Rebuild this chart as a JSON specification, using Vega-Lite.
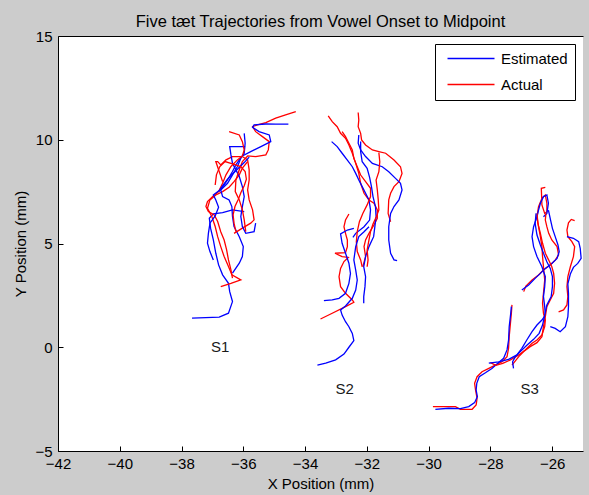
{
"$schema":"https://vega.github.io/schema/vega-lite/v6.json",
"width":525,"height":415,
"autosize":{"type":"none"},
"padding":{"left":58,"top":36,"right":6,"bottom":44},
"background":"#cccccc",
"title":{"text":"Five tæt Trajectories from Vowel Onset to Midpoint","fontSize":16.5,"font":"Liberation Sans","fontWeight":"normal","color":"#000000","offset":-1,"anchor":"middle","frame":"group"},
"config":{
 "view":{"fill":"#ffffff","stroke":null},
 "axis":{"domainColor":"#000000","tickColor":"#000000","labelColor":"#000000","titleColor":"#000000","labelFont":"Liberation Sans","titleFont":"Liberation Sans","labelFontSize":15,"titleFontSize":15,"titleFontWeight":"normal","grid":false,"tickSize":-5,"domainWidth":1,"tickWidth":1}
},
"datasets":{
"labels":[{"label":"S1","x":-36.75,"y":0},{"label":"S2","x":-32.72,"y":-2},{"label":"S3","x":-26.73,"y":-2}],
"traj":[
{"traj":"S1-1","series":"Estimated","step":0,"x":-37.66,"y":1.40},
{"traj":"S1-1","series":"Estimated","step":1,"x":-36.78,"y":1.45},
{"traj":"S1-1","series":"Estimated","step":2,"x":-36.48,"y":1.64},
{"traj":"S1-1","series":"Estimated","step":3,"x":-36.35,"y":2.20},
{"traj":"S1-1","series":"Estimated","step":4,"x":-36.44,"y":2.68},
{"traj":"S1-1","series":"Estimated","step":5,"x":-36.48,"y":3.08},
{"traj":"S1-1","series":"Estimated","step":6,"x":-36.67,"y":3.49},
{"traj":"S1-1","series":"Estimated","step":7,"x":-36.80,"y":3.97},
{"traj":"S1-1","series":"Estimated","step":8,"x":-36.89,"y":4.53},
{"traj":"S1-1","series":"Estimated","step":9,"x":-36.97,"y":5.17},
{"traj":"S1-1","series":"Estimated","step":10,"x":-37.06,"y":5.74},
{"traj":"S1-1","series":"Estimated","step":11,"x":-37.10,"y":6.22},
{"traj":"S1-1","series":"Estimated","step":12,"x":-36.97,"y":6.43},
{"traj":"S1-1","series":"Estimated","step":13,"x":-36.67,"y":6.49},
{"traj":"S1-1","series":"Estimated","step":14,"x":-36.35,"y":6.62},
{"traj":"S1-1","series":"Estimated","step":15,"x":-35.97,"y":6.54},
{"traj":"S1-1","series":"Actual","step":0,"x":-36.73,"y":2.92},
{"traj":"S1-1","series":"Actual","step":1,"x":-36.40,"y":3.08},
{"traj":"S1-1","series":"Actual","step":2,"x":-36.08,"y":3.25},
{"traj":"S1-1","series":"Actual","step":3,"x":-36.37,"y":3.49},
{"traj":"S1-1","series":"Actual","step":4,"x":-36.48,"y":3.89},
{"traj":"S1-1","series":"Actual","step":5,"x":-36.62,"y":4.37},
{"traj":"S1-1","series":"Actual","step":6,"x":-36.73,"y":4.85},
{"traj":"S1-1","series":"Actual","step":7,"x":-36.83,"y":5.33},
{"traj":"S1-1","series":"Actual","step":8,"x":-36.91,"y":5.82},
{"traj":"S1-1","series":"Actual","step":9,"x":-37.02,"y":6.30},
{"traj":"S1-1","series":"Actual","step":10,"x":-37.16,"y":6.70},
{"traj":"S1-1","series":"Actual","step":11,"x":-37.08,"y":7.10},
{"traj":"S1-1","series":"Actual","step":12,"x":-36.89,"y":7.34},
{"traj":"S1-1","series":"Actual","step":13,"x":-36.67,"y":7.50},
{"traj":"S1-1","series":"Actual","step":14,"x":-36.46,"y":7.71},
{"traj":"S1-1","series":"Actual","step":15,"x":-36.30,"y":7.98},
{"traj":"S1-1","series":"Actual","step":16,"x":-36.13,"y":8.31},
{"traj":"S1-1","series":"Actual","step":17,"x":-36.03,"y":8.63},
{"traj":"S1-1","series":"Actual","step":18,"x":-35.86,"y":8.95},
{"traj":"S1-2","series":"Estimated","step":0,"x":-36.35,"y":3.57},
{"traj":"S1-2","series":"Estimated","step":1,"x":-36.13,"y":4.05},
{"traj":"S1-2","series":"Estimated","step":2,"x":-36.03,"y":4.37},
{"traj":"S1-2","series":"Estimated","step":3,"x":-36.00,"y":4.85},
{"traj":"S1-2","series":"Estimated","step":4,"x":-36.13,"y":5.33},
{"traj":"S1-2","series":"Estimated","step":5,"x":-36.30,"y":5.82},
{"traj":"S1-2","series":"Estimated","step":6,"x":-36.35,"y":6.30},
{"traj":"S1-2","series":"Estimated","step":7,"x":-36.37,"y":6.78},
{"traj":"S1-2","series":"Estimated","step":8,"x":-36.46,"y":7.10},
{"traj":"S1-2","series":"Estimated","step":9,"x":-36.67,"y":7.26},
{"traj":"S1-2","series":"Estimated","step":10,"x":-36.73,"y":7.58},
{"traj":"S1-2","series":"Estimated","step":11,"x":-36.51,"y":7.90},
{"traj":"S1-2","series":"Estimated","step":12,"x":-36.35,"y":8.31},
{"traj":"S1-2","series":"Estimated","step":13,"x":-36.19,"y":8.71},
{"traj":"S1-2","series":"Estimated","step":14,"x":-36.08,"y":9.11},
{"traj":"S1-2","series":"Estimated","step":15,"x":-35.97,"y":9.35},
{"traj":"S1-2","series":"Estimated","step":16,"x":-35.94,"y":9.83},
{"traj":"S1-2","series":"Estimated","step":17,"x":-35.97,"y":10.31},
{"traj":"S1-2","series":"Actual","step":0,"x":-36.30,"y":5.49},
{"traj":"S1-2","series":"Actual","step":1,"x":-36.03,"y":5.74},
{"traj":"S1-2","series":"Actual","step":2,"x":-35.76,"y":5.98},
{"traj":"S1-2","series":"Actual","step":3,"x":-35.65,"y":6.14},
{"traj":"S1-2","series":"Actual","step":4,"x":-35.70,"y":6.62},
{"traj":"S1-2","series":"Actual","step":5,"x":-35.81,"y":7.10},
{"traj":"S1-2","series":"Actual","step":6,"x":-35.86,"y":7.58},
{"traj":"S1-2","series":"Actual","step":7,"x":-35.81,"y":8.06},
{"traj":"S1-2","series":"Actual","step":8,"x":-35.81,"y":8.55},
{"traj":"S1-2","series":"Actual","step":9,"x":-35.86,"y":9.03},
{"traj":"S1-2","series":"Actual","step":10,"x":-36.03,"y":9.19},
{"traj":"S1-2","series":"Actual","step":11,"x":-36.35,"y":9.19},
{"traj":"S1-2","series":"Actual","step":12,"x":-36.56,"y":9.03},
{"traj":"S1-2","series":"Actual","step":13,"x":-36.73,"y":8.79},
{"traj":"S1-2","series":"Actual","step":14,"x":-36.83,"y":8.95},
{"traj":"S1-2","series":"Actual","step":15,"x":-36.89,"y":8.95},
{"traj":"S1-2","series":"Actual","step":16,"x":-36.78,"y":8.47},
{"traj":"S1-2","series":"Actual","step":17,"x":-36.67,"y":7.98},
{"traj":"S1-3","series":"Estimated","step":0,"x":-35.60,"y":5.98},
{"traj":"S1-3","series":"Estimated","step":1,"x":-35.65,"y":5.57},
{"traj":"S1-3","series":"Estimated","step":2,"x":-35.92,"y":5.49},
{"traj":"S1-3","series":"Estimated","step":3,"x":-36.03,"y":5.82},
{"traj":"S1-3","series":"Estimated","step":4,"x":-36.08,"y":6.30},
{"traj":"S1-3","series":"Estimated","step":5,"x":-36.03,"y":6.78},
{"traj":"S1-3","series":"Estimated","step":6,"x":-35.97,"y":7.26},
{"traj":"S1-3","series":"Estimated","step":7,"x":-36.03,"y":7.74},
{"traj":"S1-3","series":"Estimated","step":8,"x":-36.13,"y":8.23},
{"traj":"S1-3","series":"Estimated","step":9,"x":-36.24,"y":8.55},
{"traj":"S1-3","series":"Estimated","step":10,"x":-36.35,"y":8.87},
{"traj":"S1-3","series":"Estimated","step":11,"x":-36.40,"y":9.27},
{"traj":"S1-3","series":"Estimated","step":12,"x":-36.44,"y":9.67},
{"traj":"S1-3","series":"Estimated","step":13,"x":-36.19,"y":9.67},
{"traj":"S1-3","series":"Estimated","step":14,"x":-35.94,"y":9.67},
{"traj":"S1-3","series":"Actual","step":0,"x":-35.92,"y":5.57},
{"traj":"S1-3","series":"Actual","step":1,"x":-35.97,"y":6.14},
{"traj":"S1-3","series":"Actual","step":2,"x":-36.03,"y":6.62},
{"traj":"S1-3","series":"Actual","step":3,"x":-36.13,"y":7.10},
{"traj":"S1-3","series":"Actual","step":4,"x":-36.26,"y":7.50},
{"traj":"S1-3","series":"Actual","step":5,"x":-36.24,"y":8.06},
{"traj":"S1-3","series":"Actual","step":6,"x":-36.13,"y":8.55},
{"traj":"S1-3","series":"Actual","step":7,"x":-36.03,"y":8.95},
{"traj":"S1-3","series":"Actual","step":8,"x":-35.86,"y":9.22},
{"traj":"S1-3","series":"Actual","step":9,"x":-35.60,"y":9.19},
{"traj":"S1-3","series":"Actual","step":10,"x":-35.27,"y":9.27},
{"traj":"S1-3","series":"Actual","step":11,"x":-35.19,"y":9.51},
{"traj":"S1-3","series":"Actual","step":12,"x":-35.16,"y":9.91},
{"traj":"S1-3","series":"Actual","step":13,"x":-35.38,"y":10.15},
{"traj":"S1-3","series":"Actual","step":14,"x":-35.60,"y":10.39},
{"traj":"S1-3","series":"Actual","step":15,"x":-35.70,"y":10.63},
{"traj":"S1-3","series":"Actual","step":16,"x":-35.54,"y":10.72},
{"traj":"S1-3","series":"Actual","step":17,"x":-35.27,"y":10.83},
{"traj":"S1-3","series":"Actual","step":18,"x":-34.95,"y":11.04},
{"traj":"S1-3","series":"Actual","step":19,"x":-34.63,"y":11.20},
{"traj":"S1-3","series":"Actual","step":20,"x":-34.30,"y":11.36},
{"traj":"S1-4","series":"Estimated","step":0,"x":-36.78,"y":7.50},
{"traj":"S1-4","series":"Estimated","step":1,"x":-36.62,"y":7.82},
{"traj":"S1-4","series":"Estimated","step":2,"x":-36.48,"y":8.14},
{"traj":"S1-4","series":"Estimated","step":3,"x":-36.35,"y":8.47},
{"traj":"S1-4","series":"Estimated","step":4,"x":-36.24,"y":8.79},
{"traj":"S1-4","series":"Estimated","step":5,"x":-36.13,"y":9.03},
{"traj":"S1-4","series":"Estimated","step":6,"x":-36.03,"y":9.22},
{"traj":"S1-4","series":"Estimated","step":7,"x":-35.76,"y":9.43},
{"traj":"S1-4","series":"Estimated","step":8,"x":-35.43,"y":9.67},
{"traj":"S1-4","series":"Estimated","step":9,"x":-35.11,"y":9.91},
{"traj":"S1-4","series":"Estimated","step":10,"x":-35.16,"y":10.23},
{"traj":"S1-4","series":"Estimated","step":11,"x":-35.49,"y":10.39},
{"traj":"S1-4","series":"Estimated","step":12,"x":-35.70,"y":10.60},
{"traj":"S1-4","series":"Estimated","step":13,"x":-35.65,"y":10.72},
{"traj":"S1-4","series":"Estimated","step":14,"x":-35.27,"y":10.76},
{"traj":"S1-4","series":"Estimated","step":15,"x":-34.95,"y":10.75},
{"traj":"S1-4","series":"Estimated","step":16,"x":-34.54,"y":10.75},
{"traj":"S1-4","series":"Actual","step":0,"x":-36.35,"y":3.33},
{"traj":"S1-4","series":"Actual","step":1,"x":-36.40,"y":3.73},
{"traj":"S1-4","series":"Actual","step":2,"x":-36.48,"y":4.21},
{"traj":"S1-4","series":"Actual","step":3,"x":-36.54,"y":4.69},
{"traj":"S1-4","series":"Actual","step":4,"x":-36.62,"y":5.17},
{"traj":"S1-4","series":"Actual","step":5,"x":-36.73,"y":5.57},
{"traj":"S1-4","series":"Actual","step":6,"x":-36.83,"y":6.06},
{"traj":"S1-4","series":"Actual","step":7,"x":-36.94,"y":6.38},
{"traj":"S1-4","series":"Actual","step":8,"x":-37.13,"y":6.54},
{"traj":"S1-4","series":"Actual","step":9,"x":-37.21,"y":6.78},
{"traj":"S1-4","series":"Actual","step":10,"x":-37.16,"y":7.02},
{"traj":"S1-4","series":"Actual","step":11,"x":-36.99,"y":7.26},
{"traj":"S1-4","series":"Actual","step":12,"x":-36.80,"y":7.50},
{"traj":"S1-4","series":"Actual","step":13,"x":-36.67,"y":7.90},
{"traj":"S1-4","series":"Actual","step":14,"x":-36.56,"y":8.31},
{"traj":"S1-4","series":"Actual","step":15,"x":-36.40,"y":8.71},
{"traj":"S1-4","series":"Actual","step":16,"x":-36.19,"y":9.03},
{"traj":"S1-4","series":"Actual","step":17,"x":-36.03,"y":9.22},
{"traj":"S1-4","series":"Actual","step":18,"x":-35.97,"y":9.51},
{"traj":"S1-4","series":"Actual","step":19,"x":-36.03,"y":9.91},
{"traj":"S1-4","series":"Actual","step":20,"x":-36.13,"y":10.23},
{"traj":"S1-4","series":"Actual","step":21,"x":-36.46,"y":10.39},
{"traj":"S1-5","series":"Estimated","step":0,"x":-36.97,"y":4.21},
{"traj":"S1-5","series":"Estimated","step":1,"x":-37.08,"y":4.61},
{"traj":"S1-5","series":"Estimated","step":2,"x":-37.16,"y":5.01},
{"traj":"S1-5","series":"Estimated","step":3,"x":-37.13,"y":5.49},
{"traj":"S1-5","series":"Estimated","step":4,"x":-37.08,"y":5.98},
{"traj":"S1-5","series":"Estimated","step":5,"x":-36.91,"y":6.33},
{"traj":"S1-5","series":"Estimated","step":6,"x":-36.80,"y":6.75},
{"traj":"S1-5","series":"Estimated","step":7,"x":-36.89,"y":7.10},
{"traj":"S1-5","series":"Estimated","step":8,"x":-36.97,"y":7.34},
{"traj":"S1-5","series":"Estimated","step":9,"x":-36.78,"y":7.55},
{"traj":"S1-5","series":"Estimated","step":10,"x":-36.65,"y":7.82},
{"traj":"S1-5","series":"Estimated","step":11,"x":-36.51,"y":8.10},
{"traj":"S1-5","series":"Estimated","step":12,"x":-36.35,"y":8.35},
{"traj":"S1-5","series":"Estimated","step":13,"x":-36.16,"y":8.63},
{"traj":"S1-5","series":"Estimated","step":14,"x":-35.97,"y":8.90},
{"traj":"S1-5","series":"Estimated","step":15,"x":-35.81,"y":9.16},
{"traj":"S1-5","series":"Actual","step":0,"x":-36.24,"y":5.57},
{"traj":"S1-5","series":"Actual","step":1,"x":-36.30,"y":5.98},
{"traj":"S1-5","series":"Actual","step":2,"x":-36.33,"y":6.38},
{"traj":"S1-5","series":"Actual","step":3,"x":-36.27,"y":6.78},
{"traj":"S1-5","series":"Actual","step":4,"x":-36.16,"y":7.13},
{"traj":"S1-5","series":"Actual","step":5,"x":-36.08,"y":7.45},
{"traj":"S1-5","series":"Actual","step":6,"x":-35.97,"y":7.78},
{"traj":"S1-5","series":"Actual","step":7,"x":-35.90,"y":8.10},
{"traj":"S1-5","series":"Actual","step":8,"x":-35.94,"y":8.47},
{"traj":"S1-5","series":"Actual","step":9,"x":-36.08,"y":8.71},
{"traj":"S1-5","series":"Actual","step":10,"x":-36.35,"y":8.84},
{"traj":"S1-5","series":"Actual","step":11,"x":-36.59,"y":8.95},
{"traj":"S1-5","series":"Actual","step":12,"x":-36.76,"y":8.71},
{"traj":"S1-5","series":"Actual","step":13,"x":-36.87,"y":8.31},
{"traj":"S1-5","series":"Actual","step":14,"x":-36.91,"y":7.82},
{"traj":"S2-1","series":"Actual","step":0,"x":-33.25,"y":11.15},
{"traj":"S2-1","series":"Actual","step":1,"x":-33.12,"y":10.87},
{"traj":"S2-1","series":"Actual","step":2,"x":-32.96,"y":10.63},
{"traj":"S2-1","series":"Actual","step":3,"x":-32.85,"y":10.31},
{"traj":"S2-1","series":"Actual","step":4,"x":-32.69,"y":10.07},
{"traj":"S2-1","series":"Actual","step":5,"x":-32.58,"y":9.75},
{"traj":"S2-1","series":"Actual","step":6,"x":-32.47,"y":9.35},
{"traj":"S2-1","series":"Actual","step":7,"x":-32.36,"y":8.86},
{"traj":"S2-1","series":"Actual","step":8,"x":-32.26,"y":8.38},
{"traj":"S2-1","series":"Actual","step":9,"x":-32.20,"y":7.90},
{"traj":"S2-1","series":"Actual","step":10,"x":-32.09,"y":7.42},
{"traj":"S2-1","series":"Actual","step":11,"x":-31.93,"y":7.10},
{"traj":"S2-1","series":"Actual","step":12,"x":-31.77,"y":6.94},
{"traj":"S2-1","series":"Actual","step":13,"x":-31.66,"y":6.62},
{"traj":"S2-1","series":"Actual","step":14,"x":-31.66,"y":6.21},
{"traj":"S2-1","series":"Actual","step":15,"x":-31.77,"y":5.89},
{"traj":"S2-1","series":"Actual","step":16,"x":-31.93,"y":5.49},
{"traj":"S2-1","series":"Actual","step":17,"x":-32.04,"y":5.17},
{"traj":"S2-1","series":"Actual","step":18,"x":-32.09,"y":4.85},
{"traj":"S2-1","series":"Actual","step":19,"x":-32.04,"y":4.37},
{"traj":"S2-1","series":"Actual","step":20,"x":-32.13,"y":3.88},
{"traj":"S2-1","series":"Estimated","step":0,"x":-33.14,"y":9.91},
{"traj":"S2-1","series":"Estimated","step":1,"x":-32.96,"y":9.67},
{"traj":"S2-1","series":"Estimated","step":2,"x":-32.80,"y":9.35},
{"traj":"S2-1","series":"Estimated","step":3,"x":-32.63,"y":9.02},
{"traj":"S2-1","series":"Estimated","step":4,"x":-32.47,"y":8.70},
{"traj":"S2-1","series":"Estimated","step":5,"x":-32.36,"y":8.38},
{"traj":"S2-1","series":"Estimated","step":6,"x":-32.26,"y":8.06},
{"traj":"S2-1","series":"Estimated","step":7,"x":-32.15,"y":7.74},
{"traj":"S2-1","series":"Estimated","step":8,"x":-32.04,"y":7.42},
{"traj":"S2-1","series":"Estimated","step":9,"x":-31.93,"y":7.10},
{"traj":"S2-1","series":"Estimated","step":10,"x":-31.88,"y":6.62},
{"traj":"S2-1","series":"Estimated","step":11,"x":-31.91,"y":6.13},
{"traj":"S2-1","series":"Estimated","step":12,"x":-32.09,"y":5.81},
{"traj":"S2-1","series":"Estimated","step":13,"x":-32.36,"y":5.49},
{"traj":"S2-1","series":"Estimated","step":14,"x":-32.45,"y":5.30},
{"traj":"S2-2","series":"Actual","step":0,"x":-32.28,"y":11.31},
{"traj":"S2-2","series":"Actual","step":1,"x":-32.26,"y":10.95},
{"traj":"S2-2","series":"Actual","step":2,"x":-32.28,"y":10.63},
{"traj":"S2-2","series":"Actual","step":3,"x":-32.20,"y":10.31},
{"traj":"S2-2","series":"Actual","step":4,"x":-32.17,"y":9.99},
{"traj":"S2-2","series":"Actual","step":5,"x":-32.04,"y":9.75},
{"traj":"S2-2","series":"Actual","step":6,"x":-31.82,"y":9.51},
{"traj":"S2-2","series":"Actual","step":7,"x":-31.61,"y":9.43},
{"traj":"S2-2","series":"Actual","step":8,"x":-31.39,"y":9.35},
{"traj":"S2-2","series":"Actual","step":9,"x":-31.12,"y":9.02},
{"traj":"S2-2","series":"Actual","step":10,"x":-30.91,"y":8.70},
{"traj":"S2-2","series":"Actual","step":11,"x":-30.86,"y":8.38},
{"traj":"S2-2","series":"Actual","step":12,"x":-30.96,"y":7.98},
{"traj":"S2-2","series":"Actual","step":13,"x":-31.12,"y":7.74},
{"traj":"S2-2","series":"Actual","step":14,"x":-31.23,"y":7.42},
{"traj":"S2-2","series":"Actual","step":15,"x":-31.29,"y":7.10},
{"traj":"S2-2","series":"Actual","step":16,"x":-31.31,"y":6.45},
{"traj":"S2-2","series":"Actual","step":17,"x":-31.23,"y":6.05},
{"traj":"S2-2","series":"Estimated","step":0,"x":-32.26,"y":10.23},
{"traj":"S2-2","series":"Estimated","step":1,"x":-32.28,"y":9.83},
{"traj":"S2-2","series":"Estimated","step":2,"x":-32.20,"y":9.51},
{"traj":"S2-2","series":"Estimated","step":3,"x":-32.04,"y":9.19},
{"traj":"S2-2","series":"Estimated","step":4,"x":-31.82,"y":8.86},
{"traj":"S2-2","series":"Estimated","step":5,"x":-31.50,"y":8.70},
{"traj":"S2-2","series":"Estimated","step":6,"x":-31.29,"y":8.46},
{"traj":"S2-2","series":"Estimated","step":7,"x":-31.07,"y":8.14},
{"traj":"S2-2","series":"Estimated","step":8,"x":-30.91,"y":7.90},
{"traj":"S2-2","series":"Estimated","step":9,"x":-30.86,"y":7.58},
{"traj":"S2-2","series":"Estimated","step":10,"x":-30.96,"y":7.10},
{"traj":"S2-2","series":"Estimated","step":11,"x":-31.12,"y":6.78},
{"traj":"S2-2","series":"Estimated","step":12,"x":-31.23,"y":6.45},
{"traj":"S2-2","series":"Estimated","step":13,"x":-31.29,"y":5.81},
{"traj":"S2-2","series":"Estimated","step":14,"x":-31.29,"y":5.17},
{"traj":"S2-2","series":"Estimated","step":15,"x":-31.23,"y":4.53},
{"traj":"S2-2","series":"Estimated","step":16,"x":-31.12,"y":4.21},
{"traj":"S2-2","series":"Estimated","step":17,"x":-31.02,"y":4.17},
{"traj":"S2-3","series":"Actual","step":0,"x":-32.80,"y":10.39},
{"traj":"S2-3","series":"Actual","step":1,"x":-32.69,"y":10.15},
{"traj":"S2-3","series":"Actual","step":2,"x":-32.58,"y":9.83},
{"traj":"S2-3","series":"Actual","step":3,"x":-32.47,"y":9.51},
{"traj":"S2-3","series":"Actual","step":4,"x":-32.42,"y":9.10},
{"traj":"S2-3","series":"Actual","step":5,"x":-32.31,"y":8.70},
{"traj":"S2-3","series":"Actual","step":6,"x":-32.20,"y":8.30},
{"traj":"S2-3","series":"Actual","step":7,"x":-32.04,"y":7.98},
{"traj":"S2-3","series":"Actual","step":8,"x":-31.88,"y":7.66},
{"traj":"S2-3","series":"Actual","step":9,"x":-31.88,"y":7.26},
{"traj":"S2-3","series":"Actual","step":10,"x":-31.99,"y":6.86},
{"traj":"S2-3","series":"Actual","step":11,"x":-32.13,"y":6.45},
{"traj":"S2-3","series":"Actual","step":12,"x":-32.24,"y":6.05},
{"traj":"S2-3","series":"Actual","step":13,"x":-32.31,"y":5.57},
{"traj":"S2-3","series":"Actual","step":14,"x":-32.34,"y":5.09},
{"traj":"S2-3","series":"Actual","step":15,"x":-32.31,"y":4.61},
{"traj":"S2-3","series":"Actual","step":16,"x":-32.20,"y":4.21},
{"traj":"S2-3","series":"Actual","step":17,"x":-32.15,"y":3.88},
{"traj":"S2-3","series":"Estimated","step":0,"x":-32.20,"y":9.91},
{"traj":"S2-3","series":"Estimated","step":1,"x":-32.20,"y":9.43},
{"traj":"S2-3","series":"Estimated","step":2,"x":-32.15,"y":8.94},
{"traj":"S2-3","series":"Estimated","step":3,"x":-31.99,"y":8.62},
{"traj":"S2-3","series":"Estimated","step":4,"x":-31.91,"y":8.19},
{"traj":"S2-3","series":"Estimated","step":5,"x":-31.85,"y":7.74},
{"traj":"S2-3","series":"Estimated","step":6,"x":-31.80,"y":7.26},
{"traj":"S2-3","series":"Estimated","step":7,"x":-31.72,"y":6.78},
{"traj":"S2-3","series":"Estimated","step":8,"x":-31.70,"y":6.29},
{"traj":"S2-3","series":"Estimated","step":9,"x":-31.74,"y":5.81},
{"traj":"S2-3","series":"Estimated","step":10,"x":-31.78,"y":5.33},
{"traj":"S2-3","series":"Estimated","step":11,"x":-31.93,"y":4.85},
{"traj":"S2-3","series":"Estimated","step":12,"x":-32.04,"y":4.37},
{"traj":"S2-3","series":"Estimated","step":13,"x":-32.10,"y":3.88},
{"traj":"S2-3","series":"Estimated","step":14,"x":-32.04,"y":3.40},
{"traj":"S2-3","series":"Estimated","step":15,"x":-32.06,"y":2.92},
{"traj":"S2-3","series":"Estimated","step":16,"x":-32.10,"y":2.44},
{"traj":"S2-3","series":"Estimated","step":17,"x":-32.10,"y":2.12},
{"traj":"S2-4","series":"Actual","step":0,"x":-32.58,"y":6.42},
{"traj":"S2-4","series":"Actual","step":1,"x":-32.69,"y":6.13},
{"traj":"S2-4","series":"Actual","step":2,"x":-32.74,"y":5.81},
{"traj":"S2-4","series":"Actual","step":3,"x":-32.69,"y":5.49},
{"traj":"S2-4","series":"Actual","step":4,"x":-32.63,"y":5.17},
{"traj":"S2-4","series":"Actual","step":5,"x":-32.63,"y":4.85},
{"traj":"S2-4","series":"Actual","step":6,"x":-32.69,"y":4.56},
{"traj":"S2-4","series":"Actual","step":7,"x":-33.03,"y":4.53},
{"traj":"S2-4","series":"Actual","step":8,"x":-32.80,"y":4.37},
{"traj":"S2-4","series":"Actual","step":9,"x":-32.60,"y":4.33},
{"traj":"S2-4","series":"Actual","step":10,"x":-32.74,"y":4.13},
{"traj":"S2-4","series":"Actual","step":11,"x":-32.85,"y":3.80},
{"traj":"S2-4","series":"Actual","step":12,"x":-32.90,"y":3.40},
{"traj":"S2-4","series":"Actual","step":13,"x":-32.85,"y":2.92},
{"traj":"S2-4","series":"Actual","step":14,"x":-32.69,"y":2.60},
{"traj":"S2-4","series":"Actual","step":15,"x":-32.47,"y":2.28},
{"traj":"S2-4","series":"Actual","step":16,"x":-32.42,"y":2.17},
{"traj":"S2-4","series":"Actual","step":17,"x":-32.69,"y":1.96},
{"traj":"S2-4","series":"Actual","step":18,"x":-33.12,"y":1.64},
{"traj":"S2-4","series":"Actual","step":19,"x":-33.50,"y":1.36},
{"traj":"S2-4","series":"Estimated","step":0,"x":-32.42,"y":5.73},
{"traj":"S2-4","series":"Estimated","step":1,"x":-32.63,"y":5.65},
{"traj":"S2-4","series":"Estimated","step":2,"x":-32.85,"y":5.46},
{"traj":"S2-4","series":"Estimated","step":3,"x":-32.80,"y":5.01},
{"traj":"S2-4","series":"Estimated","step":4,"x":-32.69,"y":4.53},
{"traj":"S2-4","series":"Estimated","step":5,"x":-32.58,"y":4.05},
{"traj":"S2-4","series":"Estimated","step":6,"x":-32.53,"y":3.56},
{"traj":"S2-4","series":"Estimated","step":7,"x":-32.58,"y":3.08},
{"traj":"S2-4","series":"Estimated","step":8,"x":-32.69,"y":2.60},
{"traj":"S2-4","series":"Estimated","step":9,"x":-32.90,"y":2.36},
{"traj":"S2-4","series":"Estimated","step":10,"x":-33.12,"y":2.28},
{"traj":"S2-4","series":"Estimated","step":11,"x":-33.39,"y":2.25},
{"traj":"S2-5","series":"Actual","step":0,"x":-31.61,"y":9.38},
{"traj":"S2-5","series":"Actual","step":1,"x":-31.58,"y":8.94},
{"traj":"S2-5","series":"Actual","step":2,"x":-31.61,"y":8.46},
{"traj":"S2-5","series":"Actual","step":3,"x":-31.70,"y":8.06},
{"traj":"S2-5","series":"Actual","step":4,"x":-31.66,"y":7.58},
{"traj":"S2-5","series":"Actual","step":5,"x":-31.63,"y":7.10},
{"traj":"S2-5","series":"Actual","step":6,"x":-31.61,"y":6.62},
{"traj":"S2-5","series":"Actual","step":7,"x":-31.70,"y":6.26},
{"traj":"S2-5","series":"Actual","step":8,"x":-31.80,"y":5.94},
{"traj":"S2-5","series":"Actual","step":9,"x":-31.88,"y":5.57},
{"traj":"S2-5","series":"Actual","step":10,"x":-31.93,"y":5.17},
{"traj":"S2-5","series":"Actual","step":11,"x":-31.99,"y":4.69},
{"traj":"S2-5","series":"Actual","step":12,"x":-31.96,"y":4.21},
{"traj":"S2-5","series":"Actual","step":13,"x":-31.99,"y":3.88},
{"traj":"S2-5","series":"Estimated","step":0,"x":-31.93,"y":5.81},
{"traj":"S2-5","series":"Estimated","step":1,"x":-32.09,"y":5.57},
{"traj":"S2-5","series":"Estimated","step":2,"x":-32.26,"y":5.33},
{"traj":"S2-5","series":"Estimated","step":3,"x":-32.36,"y":4.85},
{"traj":"S2-5","series":"Estimated","step":4,"x":-32.42,"y":4.21},
{"traj":"S2-5","series":"Estimated","step":5,"x":-32.36,"y":3.72},
{"traj":"S2-5","series":"Estimated","step":6,"x":-32.31,"y":3.24},
{"traj":"S2-5","series":"Estimated","step":7,"x":-32.36,"y":2.76},
{"traj":"S2-5","series":"Estimated","step":8,"x":-32.47,"y":2.36},
{"traj":"S2-5","series":"Estimated","step":9,"x":-32.69,"y":1.99},
{"traj":"S2-5","series":"Estimated","step":10,"x":-32.85,"y":1.80},
{"traj":"S2-5","series":"Estimated","step":11,"x":-32.80,"y":1.55},
{"traj":"S2-5","series":"Estimated","step":12,"x":-32.69,"y":1.23},
{"traj":"S2-5","series":"Estimated","step":13,"x":-32.58,"y":0.99},
{"traj":"S2-5","series":"Estimated","step":14,"x":-32.47,"y":0.67},
{"traj":"S2-5","series":"Estimated","step":15,"x":-32.42,"y":0.32},
{"traj":"S2-5","series":"Estimated","step":16,"x":-32.58,"y":0.00},
{"traj":"S2-5","series":"Estimated","step":17,"x":-32.74,"y":-0.33},
{"traj":"S2-5","series":"Estimated","step":18,"x":-33.01,"y":-0.61},
{"traj":"S2-5","series":"Estimated","step":19,"x":-33.33,"y":-0.77},
{"traj":"S2-5","series":"Estimated","step":20,"x":-33.60,"y":-0.86},
{"traj":"S3-1","series":"Actual","step":0,"x":-29.86,"y":-2.86},
{"traj":"S3-1","series":"Actual","step":1,"x":-29.13,"y":-2.86},
{"traj":"S3-1","series":"Actual","step":2,"x":-28.97,"y":-2.99},
{"traj":"S3-1","series":"Actual","step":3,"x":-28.59,"y":-2.99},
{"traj":"S3-1","series":"Actual","step":4,"x":-28.46,"y":-2.78},
{"traj":"S3-1","series":"Actual","step":5,"x":-28.43,"y":-2.46},
{"traj":"S3-1","series":"Actual","step":6,"x":-28.48,"y":-2.06},
{"traj":"S3-1","series":"Actual","step":7,"x":-28.51,"y":-1.74},
{"traj":"S3-1","series":"Actual","step":8,"x":-28.43,"y":-1.42},
{"traj":"S3-1","series":"Actual","step":9,"x":-28.27,"y":-1.18},
{"traj":"S3-1","series":"Actual","step":10,"x":-28.05,"y":-1.02},
{"traj":"S3-1","series":"Actual","step":11,"x":-27.84,"y":-0.86},
{"traj":"S3-1","series":"Actual","step":12,"x":-27.62,"y":-0.70},
{"traj":"S3-1","series":"Actual","step":13,"x":-27.46,"y":-0.45},
{"traj":"S3-1","series":"Actual","step":14,"x":-27.41,"y":-0.05},
{"traj":"S3-1","series":"Actual","step":15,"x":-27.39,"y":0.51},
{"traj":"S3-1","series":"Actual","step":16,"x":-27.35,"y":1.15},
{"traj":"S3-1","series":"Actual","step":17,"x":-27.32,"y":1.63},
{"traj":"S3-1","series":"Actual","step":18,"x":-27.30,"y":2.04},
{"traj":"S3-1","series":"Estimated","step":0,"x":-29.78,"y":-2.99},
{"traj":"S3-1","series":"Estimated","step":1,"x":-29.35,"y":-2.94},
{"traj":"S3-1","series":"Estimated","step":2,"x":-28.97,"y":-2.96},
{"traj":"S3-1","series":"Estimated","step":3,"x":-28.70,"y":-2.86},
{"traj":"S3-1","series":"Estimated","step":4,"x":-28.51,"y":-2.67},
{"traj":"S3-1","series":"Estimated","step":5,"x":-28.42,"y":-2.38},
{"traj":"S3-1","series":"Estimated","step":6,"x":-28.46,"y":-2.06},
{"traj":"S3-1","series":"Estimated","step":7,"x":-28.44,"y":-1.74},
{"traj":"S3-1","series":"Estimated","step":8,"x":-28.36,"y":-1.42},
{"traj":"S3-1","series":"Estimated","step":9,"x":-28.16,"y":-1.23},
{"traj":"S3-1","series":"Estimated","step":10,"x":-27.95,"y":-1.02},
{"traj":"S3-1","series":"Estimated","step":11,"x":-27.73,"y":-0.74},
{"traj":"S3-1","series":"Estimated","step":12,"x":-27.57,"y":-0.53},
{"traj":"S3-1","series":"Estimated","step":13,"x":-27.46,"y":-0.13},
{"traj":"S3-1","series":"Estimated","step":14,"x":-27.41,"y":0.35},
{"traj":"S3-1","series":"Estimated","step":15,"x":-27.39,"y":0.99},
{"traj":"S3-1","series":"Estimated","step":16,"x":-27.34,"y":1.63},
{"traj":"S3-1","series":"Estimated","step":17,"x":-27.32,"y":1.96},
{"traj":"S3-2","series":"Actual","step":0,"x":-28.00,"y":-0.74},
{"traj":"S3-2","series":"Actual","step":1,"x":-27.82,"y":-0.87},
{"traj":"S3-2","series":"Actual","step":2,"x":-27.60,"y":-0.78},
{"traj":"S3-2","series":"Actual","step":3,"x":-27.35,"y":-0.61},
{"traj":"S3-2","series":"Actual","step":4,"x":-27.08,"y":-0.37},
{"traj":"S3-2","series":"Actual","step":5,"x":-26.87,"y":-0.13},
{"traj":"S3-2","series":"Actual","step":6,"x":-26.65,"y":0.19},
{"traj":"S3-2","series":"Actual","step":7,"x":-26.49,"y":0.35},
{"traj":"S3-2","series":"Actual","step":8,"x":-26.33,"y":0.59},
{"traj":"S3-2","series":"Actual","step":9,"x":-26.24,"y":0.99},
{"traj":"S3-2","series":"Actual","step":10,"x":-26.22,"y":1.31},
{"traj":"S3-2","series":"Actual","step":11,"x":-26.28,"y":1.63},
{"traj":"S3-2","series":"Actual","step":12,"x":-26.31,"y":2.12},
{"traj":"S3-2","series":"Actual","step":13,"x":-26.28,"y":2.60},
{"traj":"S3-2","series":"Actual","step":14,"x":-26.24,"y":3.24},
{"traj":"S3-2","series":"Actual","step":15,"x":-26.28,"y":3.88},
{"traj":"S3-2","series":"Actual","step":16,"x":-26.31,"y":4.37},
{"traj":"S3-2","series":"Actual","step":17,"x":-26.33,"y":4.85},
{"traj":"S3-2","series":"Actual","step":18,"x":-26.38,"y":5.33},
{"traj":"S3-2","series":"Actual","step":19,"x":-26.44,"y":5.81},
{"traj":"S3-2","series":"Actual","step":20,"x":-26.49,"y":6.29},
{"traj":"S3-2","series":"Actual","step":21,"x":-26.44,"y":6.78},
{"traj":"S3-2","series":"Actual","step":22,"x":-26.33,"y":7.18},
{"traj":"S3-2","series":"Actual","step":23,"x":-26.22,"y":7.34},
{"traj":"S3-2","series":"Actual","step":24,"x":-26.17,"y":6.94},
{"traj":"S3-2","series":"Actual","step":25,"x":-26.17,"y":6.53},
{"traj":"S3-2","series":"Actual","step":26,"x":-26.24,"y":6.45},
{"traj":"S3-2","series":"Actual","step":27,"x":-26.33,"y":6.86},
{"traj":"S3-2","series":"Actual","step":28,"x":-26.35,"y":7.66},
{"traj":"S3-2","series":"Actual","step":29,"x":-26.22,"y":7.71},
{"traj":"S3-2","series":"Estimated","step":0,"x":-28.05,"y":-0.77},
{"traj":"S3-2","series":"Estimated","step":1,"x":-27.73,"y":-0.70},
{"traj":"S3-2","series":"Estimated","step":2,"x":-27.41,"y":-0.58},
{"traj":"S3-2","series":"Estimated","step":3,"x":-27.14,"y":-0.37},
{"traj":"S3-2","series":"Estimated","step":4,"x":-26.98,"y":-0.05},
{"traj":"S3-2","series":"Estimated","step":5,"x":-26.82,"y":0.35},
{"traj":"S3-2","series":"Estimated","step":6,"x":-26.65,"y":0.75},
{"traj":"S3-2","series":"Estimated","step":7,"x":-26.49,"y":1.07},
{"traj":"S3-2","series":"Estimated","step":8,"x":-26.33,"y":1.31},
{"traj":"S3-2","series":"Estimated","step":9,"x":-26.22,"y":1.55},
{"traj":"S3-2","series":"Estimated","step":10,"x":-26.24,"y":1.96},
{"traj":"S3-2","series":"Estimated","step":11,"x":-26.28,"y":2.44},
{"traj":"S3-2","series":"Estimated","step":12,"x":-26.24,"y":2.92},
{"traj":"S3-2","series":"Estimated","step":13,"x":-26.22,"y":3.40},
{"traj":"S3-2","series":"Estimated","step":14,"x":-26.33,"y":3.88},
{"traj":"S3-2","series":"Estimated","step":15,"x":-26.49,"y":4.37},
{"traj":"S3-2","series":"Estimated","step":16,"x":-26.60,"y":4.85},
{"traj":"S3-2","series":"Estimated","step":17,"x":-26.65,"y":5.33},
{"traj":"S3-2","series":"Estimated","step":18,"x":-26.60,"y":5.81},
{"traj":"S3-2","series":"Estimated","step":19,"x":-26.49,"y":6.29},
{"traj":"S3-2","series":"Estimated","step":20,"x":-26.44,"y":6.61},
{"traj":"S3-2","series":"Estimated","step":21,"x":-26.38,"y":6.94},
{"traj":"S3-2","series":"Estimated","step":22,"x":-26.28,"y":7.26},
{"traj":"S3-2","series":"Estimated","step":23,"x":-26.17,"y":7.34},
{"traj":"S3-2","series":"Estimated","step":24,"x":-26.12,"y":6.94},
{"traj":"S3-2","series":"Estimated","step":25,"x":-26.17,"y":6.45},
{"traj":"S3-2","series":"Estimated","step":26,"x":-26.28,"y":6.29},
{"traj":"S3-3","series":"Actual","step":0,"x":-26.92,"y":2.68},
{"traj":"S3-3","series":"Actual","step":1,"x":-26.85,"y":2.95},
{"traj":"S3-3","series":"Actual","step":2,"x":-26.65,"y":3.24},
{"traj":"S3-3","series":"Actual","step":3,"x":-26.44,"y":3.48},
{"traj":"S3-3","series":"Actual","step":4,"x":-26.28,"y":3.72},
{"traj":"S3-3","series":"Actual","step":5,"x":-26.06,"y":3.96},
{"traj":"S3-3","series":"Actual","step":6,"x":-25.90,"y":4.20},
{"traj":"S3-3","series":"Actual","step":7,"x":-25.79,"y":4.45},
{"traj":"S3-3","series":"Actual","step":8,"x":-25.84,"y":4.85},
{"traj":"S3-3","series":"Actual","step":9,"x":-26.01,"y":5.17},
{"traj":"S3-3","series":"Actual","step":10,"x":-26.11,"y":5.49},
{"traj":"S3-3","series":"Actual","step":11,"x":-26.17,"y":5.81},
{"traj":"S3-3","series":"Actual","step":12,"x":-26.22,"y":6.13},
{"traj":"S3-3","series":"Actual","step":13,"x":-26.20,"y":6.45},
{"traj":"S3-3","series":"Estimated","step":0,"x":-26.98,"y":2.76},
{"traj":"S3-3","series":"Estimated","step":1,"x":-26.76,"y":3.00},
{"traj":"S3-3","series":"Estimated","step":2,"x":-26.55,"y":3.32},
{"traj":"S3-3","series":"Estimated","step":3,"x":-26.38,"y":3.56},
{"traj":"S3-3","series":"Estimated","step":4,"x":-26.22,"y":3.80},
{"traj":"S3-3","series":"Estimated","step":5,"x":-26.01,"y":4.04},
{"traj":"S3-3","series":"Estimated","step":6,"x":-25.84,"y":4.28},
{"traj":"S3-3","series":"Estimated","step":7,"x":-25.77,"y":4.61},
{"traj":"S3-3","series":"Estimated","step":8,"x":-25.81,"y":4.93},
{"traj":"S3-3","series":"Estimated","step":9,"x":-25.90,"y":5.33},
{"traj":"S3-3","series":"Estimated","step":10,"x":-25.99,"y":5.73},
{"traj":"S3-3","series":"Estimated","step":11,"x":-26.05,"y":6.13},
{"traj":"S3-3","series":"Estimated","step":12,"x":-26.12,"y":6.61},
{"traj":"S3-4","series":"Actual","step":0,"x":-25.79,"y":1.71},
{"traj":"S3-4","series":"Actual","step":1,"x":-25.63,"y":1.80},
{"traj":"S3-4","series":"Actual","step":2,"x":-25.52,"y":2.04},
{"traj":"S3-4","series":"Actual","step":3,"x":-25.49,"y":2.44},
{"traj":"S3-4","series":"Actual","step":4,"x":-25.52,"y":2.92},
{"traj":"S3-4","series":"Actual","step":5,"x":-25.49,"y":3.40},
{"traj":"S3-4","series":"Actual","step":6,"x":-25.41,"y":3.88},
{"traj":"S3-4","series":"Actual","step":7,"x":-25.31,"y":4.37},
{"traj":"S3-4","series":"Actual","step":8,"x":-25.27,"y":4.85},
{"traj":"S3-4","series":"Actual","step":9,"x":-25.36,"y":5.09},
{"traj":"S3-4","series":"Actual","step":10,"x":-25.49,"y":5.33},
{"traj":"S3-4","series":"Actual","step":11,"x":-25.52,"y":5.65},
{"traj":"S3-4","series":"Actual","step":12,"x":-25.47,"y":6.00},
{"traj":"S3-4","series":"Actual","step":13,"x":-25.38,"y":6.16},
{"traj":"S3-4","series":"Actual","step":14,"x":-25.27,"y":6.10},
{"traj":"S3-4","series":"Estimated","step":0,"x":-26.06,"y":0.99},
{"traj":"S3-4","series":"Estimated","step":1,"x":-25.90,"y":0.91},
{"traj":"S3-4","series":"Estimated","step":2,"x":-25.74,"y":0.75},
{"traj":"S3-4","series":"Estimated","step":3,"x":-25.57,"y":0.99},
{"traj":"S3-4","series":"Estimated","step":4,"x":-25.49,"y":1.47},
{"traj":"S3-4","series":"Estimated","step":5,"x":-25.47,"y":1.96},
{"traj":"S3-4","series":"Estimated","step":6,"x":-25.47,"y":2.60},
{"traj":"S3-4","series":"Estimated","step":7,"x":-25.49,"y":3.05},
{"traj":"S3-4","series":"Estimated","step":8,"x":-25.41,"y":3.53},
{"traj":"S3-4","series":"Estimated","step":9,"x":-25.31,"y":3.85},
{"traj":"S3-4","series":"Estimated","step":10,"x":-25.17,"y":4.04},
{"traj":"S3-4","series":"Estimated","step":11,"x":-25.06,"y":4.28},
{"traj":"S3-4","series":"Estimated","step":12,"x":-25.09,"y":4.77},
{"traj":"S3-4","series":"Estimated","step":13,"x":-25.14,"y":5.09},
{"traj":"S3-4","series":"Estimated","step":14,"x":-25.31,"y":5.25},
{"traj":"S3-4","series":"Estimated","step":15,"x":-25.52,"y":5.33},
{"traj":"S3-5","series":"Actual","step":0,"x":-27.30,"y":-0.86},
{"traj":"S3-5","series":"Actual","step":1,"x":-27.08,"y":-0.45},
{"traj":"S3-5","series":"Actual","step":2,"x":-26.92,"y":-0.21},
{"traj":"S3-5","series":"Actual","step":3,"x":-26.71,"y":0.03},
{"traj":"S3-5","series":"Actual","step":4,"x":-26.49,"y":0.22},
{"traj":"S3-5","series":"Actual","step":5,"x":-26.33,"y":0.51},
{"traj":"S3-5","series":"Actual","step":6,"x":-26.28,"y":0.99},
{"traj":"S3-5","series":"Actual","step":7,"x":-26.22,"y":1.47},
{"traj":"S3-5","series":"Actual","step":8,"x":-26.17,"y":1.96},
{"traj":"S3-5","series":"Actual","step":9,"x":-26.06,"y":2.28},
{"traj":"S3-5","series":"Actual","step":10,"x":-25.95,"y":2.60},
{"traj":"S3-5","series":"Actual","step":11,"x":-25.92,"y":3.08},
{"traj":"S3-5","series":"Actual","step":12,"x":-25.95,"y":3.56},
{"traj":"S3-5","series":"Actual","step":13,"x":-26.01,"y":3.88},
{"traj":"S3-5","series":"Actual","step":14,"x":-26.11,"y":4.20},
{"traj":"S3-5","series":"Actual","step":15,"x":-26.22,"y":4.53},
{"traj":"S3-5","series":"Actual","step":16,"x":-26.31,"y":5.01},
{"traj":"S3-5","series":"Actual","step":17,"x":-26.38,"y":5.49},
{"traj":"S3-5","series":"Actual","step":18,"x":-26.46,"y":5.97},
{"traj":"S3-5","series":"Actual","step":19,"x":-26.49,"y":6.45},
{"traj":"S3-5","series":"Estimated","step":0,"x":-27.25,"y":-1.02},
{"traj":"S3-5","series":"Estimated","step":1,"x":-27.28,"y":-0.70},
{"traj":"S3-5","series":"Estimated","step":2,"x":-27.19,"y":-0.45},
{"traj":"S3-5","series":"Estimated","step":3,"x":-27.03,"y":-0.21},
{"traj":"S3-5","series":"Estimated","step":4,"x":-26.81,"y":0.11},
{"traj":"S3-5","series":"Estimated","step":5,"x":-26.60,"y":0.38},
{"traj":"S3-5","series":"Estimated","step":6,"x":-26.42,"y":0.67},
{"traj":"S3-5","series":"Estimated","step":7,"x":-26.31,"y":1.07},
{"traj":"S3-5","series":"Estimated","step":8,"x":-26.24,"y":1.55},
{"traj":"S3-5","series":"Estimated","step":9,"x":-26.17,"y":2.04},
{"traj":"S3-5","series":"Estimated","step":10,"x":-26.03,"y":2.44},
{"traj":"S3-5","series":"Estimated","step":11,"x":-25.99,"y":2.92},
{"traj":"S3-5","series":"Estimated","step":12,"x":-25.99,"y":3.40},
{"traj":"S3-5","series":"Estimated","step":13,"x":-26.06,"y":3.80},
{"traj":"S3-5","series":"Estimated","step":14,"x":-26.17,"y":4.12},
{"traj":"S3-5","series":"Estimated","step":15,"x":-26.28,"y":4.53},
{"traj":"S3-5","series":"Estimated","step":16,"x":-26.38,"y":4.93},
{"traj":"S3-5","series":"Estimated","step":17,"x":-26.49,"y":5.41},
{"traj":"S3-5","series":"Estimated","step":18,"x":-26.55,"y":5.97},
{"traj":"S3-5","series":"Estimated","step":19,"x":-26.52,"y":6.45}
]},
"resolve":{"axis":{"x":"independent"}},
"layer":[
{"data":{"name":"traj"},
 "mark":{"type":"line","strokeWidth":1.3},
 "encoding":{
  "x":{"field":"x","type":"quantitative","scale":{"domain":[-42,-25],"nice":false,"zero":false},"axis":{"values":[-42,-40,-38,-36,-34,-32,-30,-28,-26],"title":"X Position (mm)","labelPadding":10,"titlePadding":5,"labelFlush":false}},
  "y":{"field":"y","type":"quantitative","scale":{"domain":[-5,15],"nice":false,"zero":false},"axis":{"values":[-5,0,5,10,15],"title":"Y Position (mm)","labelPadding":11,"titlePadding":6,"labelFlush":false}},
  "color":{"field":"series","type":"nominal","scale":{"domain":["Estimated","Actual"],"range":["#0000ff","#ff0000"]},
   "legend":{"orient":"none","legendX":377,"legendY":8,"title":null,"symbolType":"M-0.33,0H7.5","symbolSize":144,"symbolStrokeWidth":1.3,"labelFontSize":15,"labelFont":"Liberation Sans","labelColor":"#000000","strokeColor":"#000000","fillColor":"#ffffff","padding":7,"rowPadding":10,"labelOffset":44}},
  "detail":{"field":"traj"},
  "order":{"field":"step","type":"quantitative"}
 }},
{"data":{"name":"labels"},
 "mark":{"type":"text","fontSize":15,"font":"Liberation Sans","color":"#1a1a1a"},
 "encoding":{
  "x":{"field":"x","type":"quantitative","axis":{"orient":"top","labels":false,"ticks":false,"title":null,"domainColor":"#000000"}},
  "y":{"field":"y","type":"quantitative"},
  "text":{"field":"label"}
 }}
]
}
